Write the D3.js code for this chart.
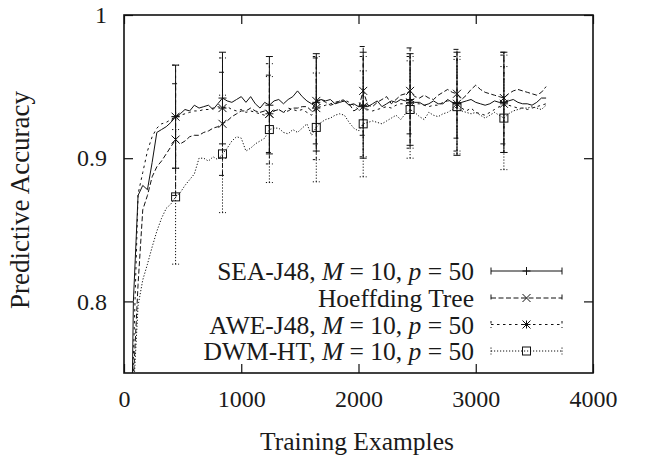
<!DOCTYPE html>
<html>
<head>
<meta charset="utf-8">
<script src="https://cdn.jsdelivr.net/npm/d3@7"></script>
<style>
  html, body { margin: 0; padding: 0; background: #fff; }
  svg text { font-family: "Liberation Serif", "Times New Roman", serif; fill: #1a1a1a; }
</style>
</head>
<body>
<svg id="chart" width="646" height="455"></svg>
<script>
// Training examples at which accuracy was sampled (every 40 examples)
const examples = d3.range(1, 91).map(i => i * 40);

// Mean predictive accuracy of each learner
const seaJ48 = [
  0.55, 0.80, 0.874, 0.881, 0.878, 0.897, 0.918, 0.920, 0.922, 0.925,
  0.929, 0.931, 0.934, 0.933, 0.937, 0.935, 0.936, 0.937, 0.934, 0.938,
  0.942, 0.940, 0.939, 0.941, 0.943, 0.939, 0.943, 0.938, 0.935, 0.939,
  0.937, 0.940, 0.941, 0.938, 0.941, 0.943, 0.947, 0.943, 0.940, 0.938,
  0.939, 0.941, 0.940, 0.941, 0.938, 0.939, 0.940, 0.937, 0.938, 0.936,
  0.937, 0.936, 0.938, 0.940, 0.936, 0.938, 0.940, 0.939, 0.941, 0.940,
  0.941, 0.939, 0.939, 0.937, 0.938, 0.940, 0.938, 0.938, 0.941, 0.939,
  0.938, 0.939, 0.940, 0.941, 0.939, 0.938, 0.937, 0.938, 0.940, 0.939,
  0.939, 0.940, 0.941, 0.939, 0.938, 0.938, 0.937, 0.939, 0.942, 0.942
];
const hoeffding = [
  0.50, 0.745, 0.812, 0.864, 0.874, 0.887, 0.894, 0.898, 0.903, 0.908,
  0.913, 0.910, 0.912, 0.915, 0.916, 0.916, 0.918, 0.919, 0.921, 0.922,
  0.924, 0.926, 0.929, 0.931, 0.933, 0.933, 0.935, 0.933, 0.932, 0.933,
  0.931, 0.933, 0.934, 0.932, 0.933, 0.935, 0.935, 0.936, 0.936, 0.933,
  0.940, 0.941, 0.939, 0.937, 0.938, 0.940, 0.940, 0.938, 0.933, 0.935,
  0.947, 0.937, 0.936, 0.939, 0.941, 0.943, 0.938, 0.941, 0.944, 0.945,
  0.947, 0.943, 0.942, 0.944, 0.942, 0.941, 0.944, 0.946, 0.948, 0.946,
  0.945, 0.941, 0.944, 0.948, 0.951, 0.948, 0.946, 0.945, 0.944, 0.943,
  0.942, 0.945, 0.947, 0.948, 0.947, 0.946, 0.945, 0.944, 0.946, 0.950
];
const aweJ48 = [
  0.55, 0.76, 0.875, 0.890, 0.905, 0.915, 0.921, 0.924, 0.925, 0.927,
  0.929, 0.930, 0.931, 0.932, 0.933, 0.933, 0.934, 0.934, 0.935, 0.936,
  0.935, 0.936, 0.934, 0.933, 0.934, 0.932, 0.933, 0.932, 0.931, 0.930,
  0.931, 0.933, 0.934, 0.932, 0.935, 0.934, 0.933, 0.934, 0.932, 0.930,
  0.935, 0.936, 0.937, 0.938, 0.939, 0.940, 0.941, 0.939, 0.937, 0.934,
  0.936, 0.934, 0.933, 0.934, 0.935, 0.936, 0.935, 0.937, 0.938, 0.938,
  0.939, 0.938, 0.938, 0.937, 0.936, 0.937, 0.937, 0.939, 0.940, 0.939,
  0.938, 0.935, 0.933, 0.935, 0.932, 0.931, 0.930, 0.932, 0.934, 0.936,
  0.938, 0.937, 0.936, 0.935, 0.935, 0.934, 0.935, 0.936, 0.937, 0.938
];
const dwmHT = [
  0.60, 0.735, 0.797, 0.815, 0.826, 0.838, 0.849, 0.858, 0.865, 0.868,
  0.873, 0.876, 0.881, 0.885, 0.889, 0.900, 0.900, 0.898, 0.901, 0.899,
  0.903, 0.907, 0.912, 0.915, 0.914, 0.905, 0.907, 0.910, 0.912, 0.914,
  0.920, 0.921, 0.921, 0.918, 0.917, 0.920, 0.918, 0.921, 0.924, 0.916,
  0.9215, 0.925, 0.927, 0.928, 0.930, 0.931, 0.930, 0.925, 0.921, 0.919,
  0.924, 0.925, 0.926, 0.925, 0.924, 0.926, 0.928, 0.930, 0.927, 0.931,
  0.934, 0.932, 0.929, 0.927, 0.932, 0.930, 0.929, 0.931, 0.932, 0.934,
  0.936, 0.933, 0.932, 0.931, 0.932, 0.930, 0.928, 0.930, 0.932, 0.930,
  0.928, 0.931, 0.933, 0.934, 0.935, 0.935, 0.936, 0.935, 0.934, 0.937
];

// Positions of the error bars and the standard deviation at each of them
const barExamples = [440, 840, 1240, 1640, 2040, 2440, 2840, 3240];
const seaSd       = [0.036, 0.032, 0.034, 0.034, 0.037, 0.032, 0.036, 0.035];
const hoeffdingSd = [0.039, 0.036, 0.027, 0.030, 0.031, 0.030, 0.031, 0.032];
const aweSd       = [0.036, 0.035, 0.035, 0.036, 0.035, 0.032, 0.033, 0.034];
const dwmSd       = [0.047, 0.041, 0.037, 0.038, 0.037, 0.034, 0.033, 0.036];

// Axis ticks
const xTicks = [0, 1000, 2000, 3000, 4000];
const yTicks = [0.8, 0.9, 1];

const series = [
  { name: "SEA", values: seaJ48, sd: seaSd, dash: null, marker: "plus",
    label: [["SEA-J48, ", false], ["M", true], [" = 10, ", false], ["p", true], [" = 50", false]] },
  { name: "HT", values: hoeffding, sd: hoeffdingSd, dash: "5,2.5", marker: "cross",
    label: [["Hoeffding Tree", false]] },
  { name: "AWE", values: aweJ48, sd: aweSd, dash: "2.5,3.5", marker: "star",
    label: [["AWE-J48, ", false], ["M", true], [" = 10, ", false], ["p", true], [" = 50", false]] },
  { name: "DWM", values: dwmHT, sd: dwmSd, dash: "1.2,1.8", marker: "square",
    label: [["DWM-HT, ", false], ["M", true], [" = 10, ", false], ["p", true], [" = 50", false]] }
];

const svg = d3.select("#chart");
svg.append("rect").attr("width", 646).attr("height", 455).attr("fill", "#fff");

const plotL = 124, plotR = 593, plotT = 15, plotB = 373;
const x = d3.scaleLinear().domain([0, 4000]).range([plotL, plotR]);
const y = d3.scaleLinear().domain([0.75, 1]).range([plotB, plotT]);

const ink = "#111";
const fontSize = 24;

svg.append("clipPath").attr("id", "plotClip")
  .append("rect").attr("x", plotL).attr("y", plotT)
  .attr("width", plotR - plotL).attr("height", plotB - plotT);

// Axes with inward ticks on all four sides
const tickLen = 9;
const axisStyle = g => {
  g.select(".domain").remove();
  g.selectAll(".tick line").attr("stroke", ink).attr("stroke-width", 1.2);
  g.selectAll(".tick text").attr("fill", "#1a1a1a")
    .style("font-family", '"Liberation Serif", "Times New Roman", serif')
    .style("font-size", fontSize + "px");
};
svg.append("g").attr("transform", `translate(0,${plotB})`)
  .call(d3.axisBottom(x).tickValues(xTicks).tickFormat(d3.format("d"))
    .tickSizeInner(-tickLen).tickSizeOuter(0).tickPadding(17))
  .call(axisStyle);
svg.append("g").attr("transform", `translate(0,${plotT})`)
  .call(d3.axisTop(x).tickValues(xTicks).tickFormat("")
    .tickSizeInner(-tickLen).tickSizeOuter(0))
  .call(axisStyle);
svg.append("g").attr("transform", `translate(${plotL},0)`)
  .call(d3.axisLeft(y).tickValues(yTicks).tickFormat(d => d === 1 ? "1" : d3.format(".1f")(d))
    .tickSizeInner(-tickLen).tickSizeOuter(0).tickPadding(17))
  .call(axisStyle);
svg.append("g").attr("transform", `translate(${plotR},0)`)
  .call(d3.axisRight(y).tickValues(yTicks).tickFormat("")
    .tickSizeInner(-tickLen).tickSizeOuter(0))
  .call(axisStyle);

// Axis titles
svg.append("text")
  .attr("x", 357).attr("y", 441)
  .attr("text-anchor", "middle").attr("dominant-baseline", "central")
  .style("font-size", "25.5px").text("Training Examples");
svg.append("text")
  .attr("transform", "translate(20,200) rotate(-90)")
  .attr("text-anchor", "middle").attr("dominant-baseline", "central")
  .style("font-size", "27px").text("Predictive Accuracy");

// Marker drawing
function drawMarker(g, type, cx, cy) {
  const r = 4;
  const seg = (x1, y1, x2, y2) => g.append("line")
    .attr("x1", x1).attr("y1", y1).attr("x2", x2).attr("y2", y2)
    .attr("stroke", ink).attr("stroke-width", 1);
  if (type === "plus" || type === "star") {
    seg(cx - r, cy, cx + r, cy);
    seg(cx, cy - r, cx, cy + r);
  }
  if (type === "cross" || type === "star") {
    seg(cx - r, cy - r, cx + r, cy + r);
    seg(cx - r, cy + r, cx + r, cy - r);
  }
  if (type === "square") {
    g.append("rect").attr("x", cx - r).attr("y", cy - r)
      .attr("width", 2 * r).attr("height", 2 * r)
      .attr("fill", "none").attr("stroke", ink).attr("stroke-width", 1);
  }
}

const plot = svg.append("g").attr("clip-path", "url(#plotClip)");
const line = d3.line().x(d => x(d[0])).y(d => y(d[1]));
const capHalf = 3.5;

series.forEach(s => {
  const pts = examples.map((e, i) => [e, s.values[i]]);
  plot.append("path").datum(pts)
    .attr("d", line).attr("fill", "none")
    .attr("stroke", ink).attr("stroke-width", 1)
    .attr("stroke-dasharray", s.dash);

  const bars = plot.append("g");
  barExamples.forEach((be, k) => {
    const mean = s.values[examples.indexOf(be)];
    const bx = x(be), y1 = y(mean - s.sd[k]), y2 = y(mean + s.sd[k]);
    const seg = (a, b, c, d) => bars.append("line")
      .attr("x1", a).attr("y1", b).attr("x2", c).attr("y2", d)
      .attr("stroke", ink).attr("stroke-width", 1)
      .attr("stroke-dasharray", s.dash);
    seg(bx, y1, bx, y2);
    seg(bx - capHalf, y1, bx + capHalf, y1);
    seg(bx - capHalf, y2, bx + capHalf, y2);
    drawMarker(bars, s.marker, bx, y(mean));
  });
});

// Legend
const legendRows = [271, 298, 324.5, 351];
const textRight = 474, sampleL = 491, sampleR = 562;
series.forEach((s, i) => {
  const ly = legendRows[i];
  const t = svg.append("text")
    .attr("x", textRight).attr("y", ly)
    .attr("text-anchor", "end").attr("dominant-baseline", "central")
    .style("font-size", "25.5px");
  s.label.forEach(([txt, it]) => {
    t.append("tspan").text(txt).style("font-style", it ? "italic" : "normal");
  });
  const g = svg.append("g");
  g.append("line").attr("x1", sampleL).attr("x2", sampleR)
    .attr("y1", ly).attr("y2", ly)
    .attr("stroke", ink).attr("stroke-width", 1)
    .attr("stroke-dasharray", s.dash);
  [sampleL, sampleR].forEach(ex => g.append("line")
    .attr("x1", ex).attr("x2", ex).attr("y1", ly - 3.5).attr("y2", ly + 3.5)
    .attr("stroke", ink).attr("stroke-width", 1)
    .attr("stroke-dasharray", s.dash));
  drawMarker(g, s.marker, (sampleL + sampleR) / 2, ly);
});

// Frame
svg.append("rect").attr("x", plotL).attr("y", plotT)
  .attr("width", plotR - plotL).attr("height", plotB - plotT)
  .attr("fill", "none").attr("stroke", ink).attr("stroke-width", 1.6);
</script>
</body>
</html>
